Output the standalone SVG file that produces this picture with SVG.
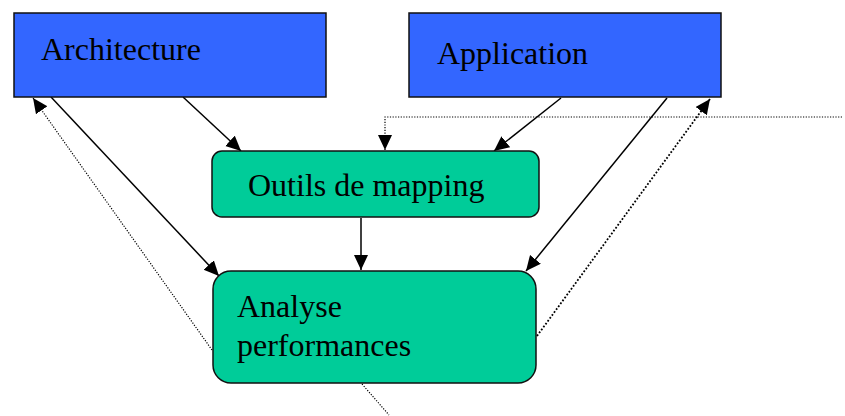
<svg xmlns="http://www.w3.org/2000/svg" width="845" height="416" viewBox="0 0 845 416">
<style>
.blue{fill:#3366FF;stroke:#111;stroke-width:1.5}
.green{fill:#00CC99;stroke:#111;stroke-width:1.5}
.lbl{font-family:"Liberation Serif","Times New Roman",serif;font-size:32px;fill:#000}
.solid{fill:none;stroke:#000;stroke-width:1.5}
.dot{fill:none;stroke:#000;stroke-width:1.2;stroke-dasharray:1.2 1.5}
.dotb{fill:none;stroke:#000;stroke-width:1.8;stroke-dasharray:1.8 1.8}
</style>
<defs>
<marker id="ah" markerUnits="userSpaceOnUse" markerWidth="16" markerHeight="15" refX="15" refY="7" orient="auto" viewBox="0 0 16 15">
<path d="M0,0 L15,7 L0,14 z" fill="#000"/>
</marker>
</defs>
<g id="connectors">
<line class="solid" x1="183" y1="97" x2="241" y2="151" marker-end="url(#ah)"/>
<line class="solid" x1="51" y1="97" x2="219" y2="276" marker-end="url(#ah)"/>
<line class="dot" x1="212" y1="350" x2="33" y2="98" marker-end="url(#ah)"/>
<line class="solid" x1="361" y1="218" x2="361" y2="270" marker-end="url(#ah)"/>
<line class="solid" x1="561" y1="98" x2="494" y2="151" marker-end="url(#ah)"/>
<line class="solid" x1="667" y1="98" x2="526" y2="271" marker-end="url(#ah)"/>
<line class="dotb" x1="537" y1="336" x2="710" y2="99" marker-end="url(#ah)"/>
<path class="dot" d="M842,117 L385,117 L385,150" marker-end="url(#ah)"/>
<line class="dot" x1="362" y1="384" x2="389" y2="415"/>
</g>
<g id="architecture">
<rect class="blue" x="14" y="13" width="312" height="84"/>
<text class="lbl" x="41" y="60">Architecture</text>
</g>
<g id="application">
<rect class="blue" x="409" y="13" width="312" height="84"/>
<text class="lbl" x="437" y="64">Application</text>
</g>
<g id="outils">
<rect class="green" x="212" y="151" width="327" height="66" rx="10"/>
<text class="lbl" x="248" y="196">Outils de mapping</text>
</g>
<g id="analyse">
<rect class="green" x="213" y="271" width="323" height="112" rx="18"/>
<text class="lbl" x="237" y="317">Analyse</text>
<text class="lbl" x="237" y="356">performances</text>
</g>
</svg>
